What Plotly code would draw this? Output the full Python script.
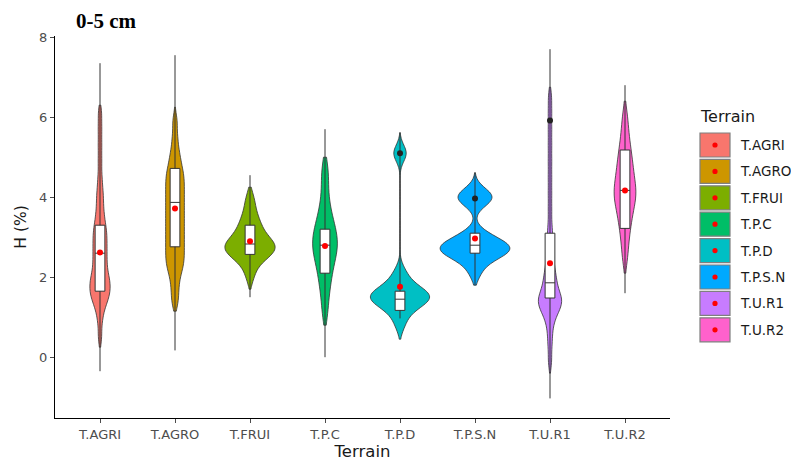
import plotly.graph_objects as go

terrains = ["T.AGRI", "T.AGRO", "T.FRUI", "T.P.C", "T.P.D", "T.P.S.N", "T.U.R1", "T.U.R2"]
colors = ["#F8766D", "#CD9600", "#7CAE00", "#00BE67", "#00BFC4", "#00A9FF", "#C77CFF", "#FF61CC"]

# observations (estimated from the violin shapes)
obs = {
    "T.AGRI": [0.5, 0.9, 1.15, 1.3, 1.4, 1.5, 1.55, 1.6, 1.7, 1.75, 1.8, 1.9, 1.95, 2.0, 2.1, 2.2,
               2.3, 2.4, 2.5, 2.6, 2.7, 2.8, 2.9, 3.0, 3.1, 3.2, 3.3, 3.45, 3.6, 3.8, 4.0, 4.2,
               4.5, 4.9, 5.3, 5.7, 6.1],
    "T.AGRO": [1.35, 1.6, 1.85, 2.05, 2.2, 2.3, 2.4, 2.5, 2.6, 2.7, 2.8, 2.9, 3.0, 3.1, 3.2, 3.3,
               3.4, 3.5, 3.6, 3.7, 3.8, 3.9, 4.0, 4.1, 4.2, 4.3, 4.4, 4.5, 4.6, 4.7, 4.85, 5.0,
               5.2, 5.5, 5.9],
    "T.FRUI": [2.0, 2.25, 2.4, 2.5, 2.55, 2.6, 2.65, 2.7, 2.72, 2.75, 2.8, 2.85, 2.9, 2.95, 3.0, 3.1,
               3.2, 3.3, 3.4, 3.55, 3.75, 4.0],
    "T.P.C": [1.1, 1.5, 1.8, 2.0, 2.2, 2.35, 2.5, 2.6, 2.7, 2.8, 2.9, 3.0, 3.1, 3.2, 3.35, 3.5, 3.7,
              4.0, 4.4, 4.75],
    "T.P.D": [0.8, 1.05, 1.2, 1.3, 1.35, 1.4, 1.45, 1.5, 1.52, 1.55, 1.6, 1.65, 1.7, 1.8, 1.95, 2.15,
              5.05, 5.15],
    "T.P.S.N": [2.1, 2.35, 2.5, 2.55, 2.6, 2.65, 2.7, 2.72, 2.75, 2.8, 2.85, 2.9, 3.0, 3.1, 3.85, 3.95,
                4.0, 4.05, 4.15],
    "T.U.R1": [-0.1, 0.3, 0.6, 0.85, 1.0, 1.1, 1.2, 1.25, 1.3, 1.35, 1.4, 1.45, 1.5, 1.55, 1.6, 1.7,
               1.8, 1.9, 2.0, 2.1, 2.25, 2.4, 2.6, 2.8, 3.0, 3.3, 3.7, 4.1, 4.5, 4.9, 5.3, 5.7,
               6.1, 6.5],
    "T.U.R2": [2.5, 2.9, 3.2, 3.4, 3.6, 3.75, 3.9, 4.0, 4.1, 4.2, 4.3, 4.45, 4.6, 4.75, 4.9, 5.1, 5.3,
               5.6, 6.0],
}
bandwidths = [0.2, 0.2, 0.2, 0.3, 0.2, 0.2, 0.2, 0.3]
violin_lo = [0.25, 1.15, 1.7, 0.8, 0.45, 1.8, -0.4, 2.1]
violin_hi = [6.3, 6.25, 4.25, 5.0, 5.6, 4.6, 6.75, 6.4]
violin_width = [0.27, 0.25, 0.67, 0.33, 0.79, 0.93, 0.31, 0.29]

# box statistics
q1 = [1.65, 2.76, 2.57, 2.1, 1.17, 2.6, 1.48, 3.22]
median = [2.6, 3.87, 2.83, 2.8, 1.45, 2.8, 1.86, 4.17]
q3 = [3.3, 4.72, 3.3, 3.2, 1.65, 3.1, 3.1, 5.18]
line_lo = [-0.35, 0.17, 1.5, 0.0, 0.97, 1.8, -1.03, 1.6]
line_hi = [7.35, 7.55, 4.55, 5.7, 5.63, 4.63, 7.7, 6.8]
means = [2.62, 3.72, 2.9, 2.78, 1.76, 2.97, 2.35, 4.17]
outlier_terrain = ["T.P.D", "T.P.S.N", "T.U.R1"]
outlier_value = [5.1, 3.97, 5.92]

FONT = "DejaVu Sans"

fig = go.Figure()
for i, t in enumerate(terrains):
    fig.add_trace(go.Violin(
        x=[t] * len(obs[t]), y=obs[t], name=t, fillcolor=colors[i],
        line=dict(color="#333333", width=0.8), opacity=1,
        bandwidth=bandwidths[i], spanmode="manual", span=[violin_lo[i], violin_hi[i]],
        scalemode="width", width=violin_width[i], points=False,
        box_visible=False, meanline_visible=False, showlegend=False, hoverinfo="skip"))
for i, t in enumerate(terrains):
    fig.add_trace(go.Box(
        x=[t], q1=[q1[i]], median=[median[i]], q3=[q3[i]],
        lowerfence=[line_lo[i]], upperfence=[line_hi[i]],
        fillcolor="white", line=dict(color="#333333", width=1), whiskerwidth=0,
        width=0.13, boxpoints=False, showlegend=False, hoverinfo="skip"))
fig.add_trace(go.Scatter(x=outlier_terrain, y=outlier_value, mode="markers",
                         marker=dict(color="#222222", size=6), showlegend=False, hoverinfo="skip"))
fig.add_trace(go.Scatter(x=terrains, y=means, mode="markers",
                         marker=dict(color="red", size=6), showlegend=False, hoverinfo="skip"))

# plot-area box in page pixels; the page body adds an 8px offset
OFF = 8
W, H = 799 - OFF, 461 - OFF
PL, PR, PT, PB = 55, 670, 36, 418


def px(x):
    return (x - PL) / (PR - PL)


def py(y):
    return (PB - y) / (PB - PT)


shapes = []
annotations = []
for i, t in enumerate(terrains):
    yc = 145 + i * 26.4
    shapes.append(dict(type="rect", xref="paper", yref="paper",
                       x0=px(700), x1=px(730), y0=py(yc + 12), y1=py(yc - 12),
                       fillcolor=colors[i], line=dict(color="#7f7f7f", width=1.2)))
    shapes.append(dict(type="circle", xref="paper", yref="paper",
                       x0=px(715 - 2.6), x1=px(715 + 2.6), y0=py(yc + 2.6), y1=py(yc - 2.6),
                       fillcolor="red", line=dict(width=0)))
    annotations.append(dict(xref="paper", yref="paper", x=px(738), y=py(yc),
                            text=t, showarrow=False, xanchor="left", yanchor="middle",
                            font=dict(size=13.5, color="#1a1a1a", family=FONT)))
annotations.append(dict(xref="paper", yref="paper", x=px(698), y=py(117),
                        text="Terrain", showarrow=False, xanchor="left", yanchor="middle",
                        font=dict(size=16, color="#1a1a1a", family=FONT)))
annotations.append(dict(xref="paper", yref="paper", x=px(75), y=py(OFF), borderpad=0,
                        text="<b>0-5 cm</b>", showarrow=False, xanchor="left", yanchor="top",
                        font=dict(size=21, color="black", family="Liberation Serif")))

fig.update_layout(
    width=W, height=H, plot_bgcolor="white", paper_bgcolor="white",
    margin=dict(l=PL - OFF, r=W - (PR - OFF), t=PT - OFF, b=H - (PB - OFF), autoexpand=False),
    violinmode="overlay", boxmode="overlay",
    shapes=shapes, annotations=annotations,
    font=dict(family=FONT),
)
fig.update_xaxes(categoryorder="array", categoryarray=terrains, range=[-0.6, 7.6], automargin=False,
                 showline=True, linecolor="black", linewidth=1, ticks="outside", ticklen=4,
                 tickcolor="#4d4d4d", tickfont=dict(size=13, color="#4d4d4d"),
                 title=dict(text="Terrain", font=dict(size=16.5, color="#1a1a1a"), standoff=1),
                 showgrid=False, zeroline=False)
fig.update_yaxes(range=[-1.52, 8.03], tickvals=[0, 2, 4, 6, 8], automargin=False,
                 showline=True, linecolor="black", linewidth=1, ticks="outside", ticklen=4,
                 tickcolor="#4d4d4d", tickfont=dict(size=13, color="#4d4d4d"),
                 title=dict(text="H (%)", font=dict(size=15.5, color="#1a1a1a"), standoff=8),
                 showgrid=False, zeroline=False)

fig.write_html("out.html")
